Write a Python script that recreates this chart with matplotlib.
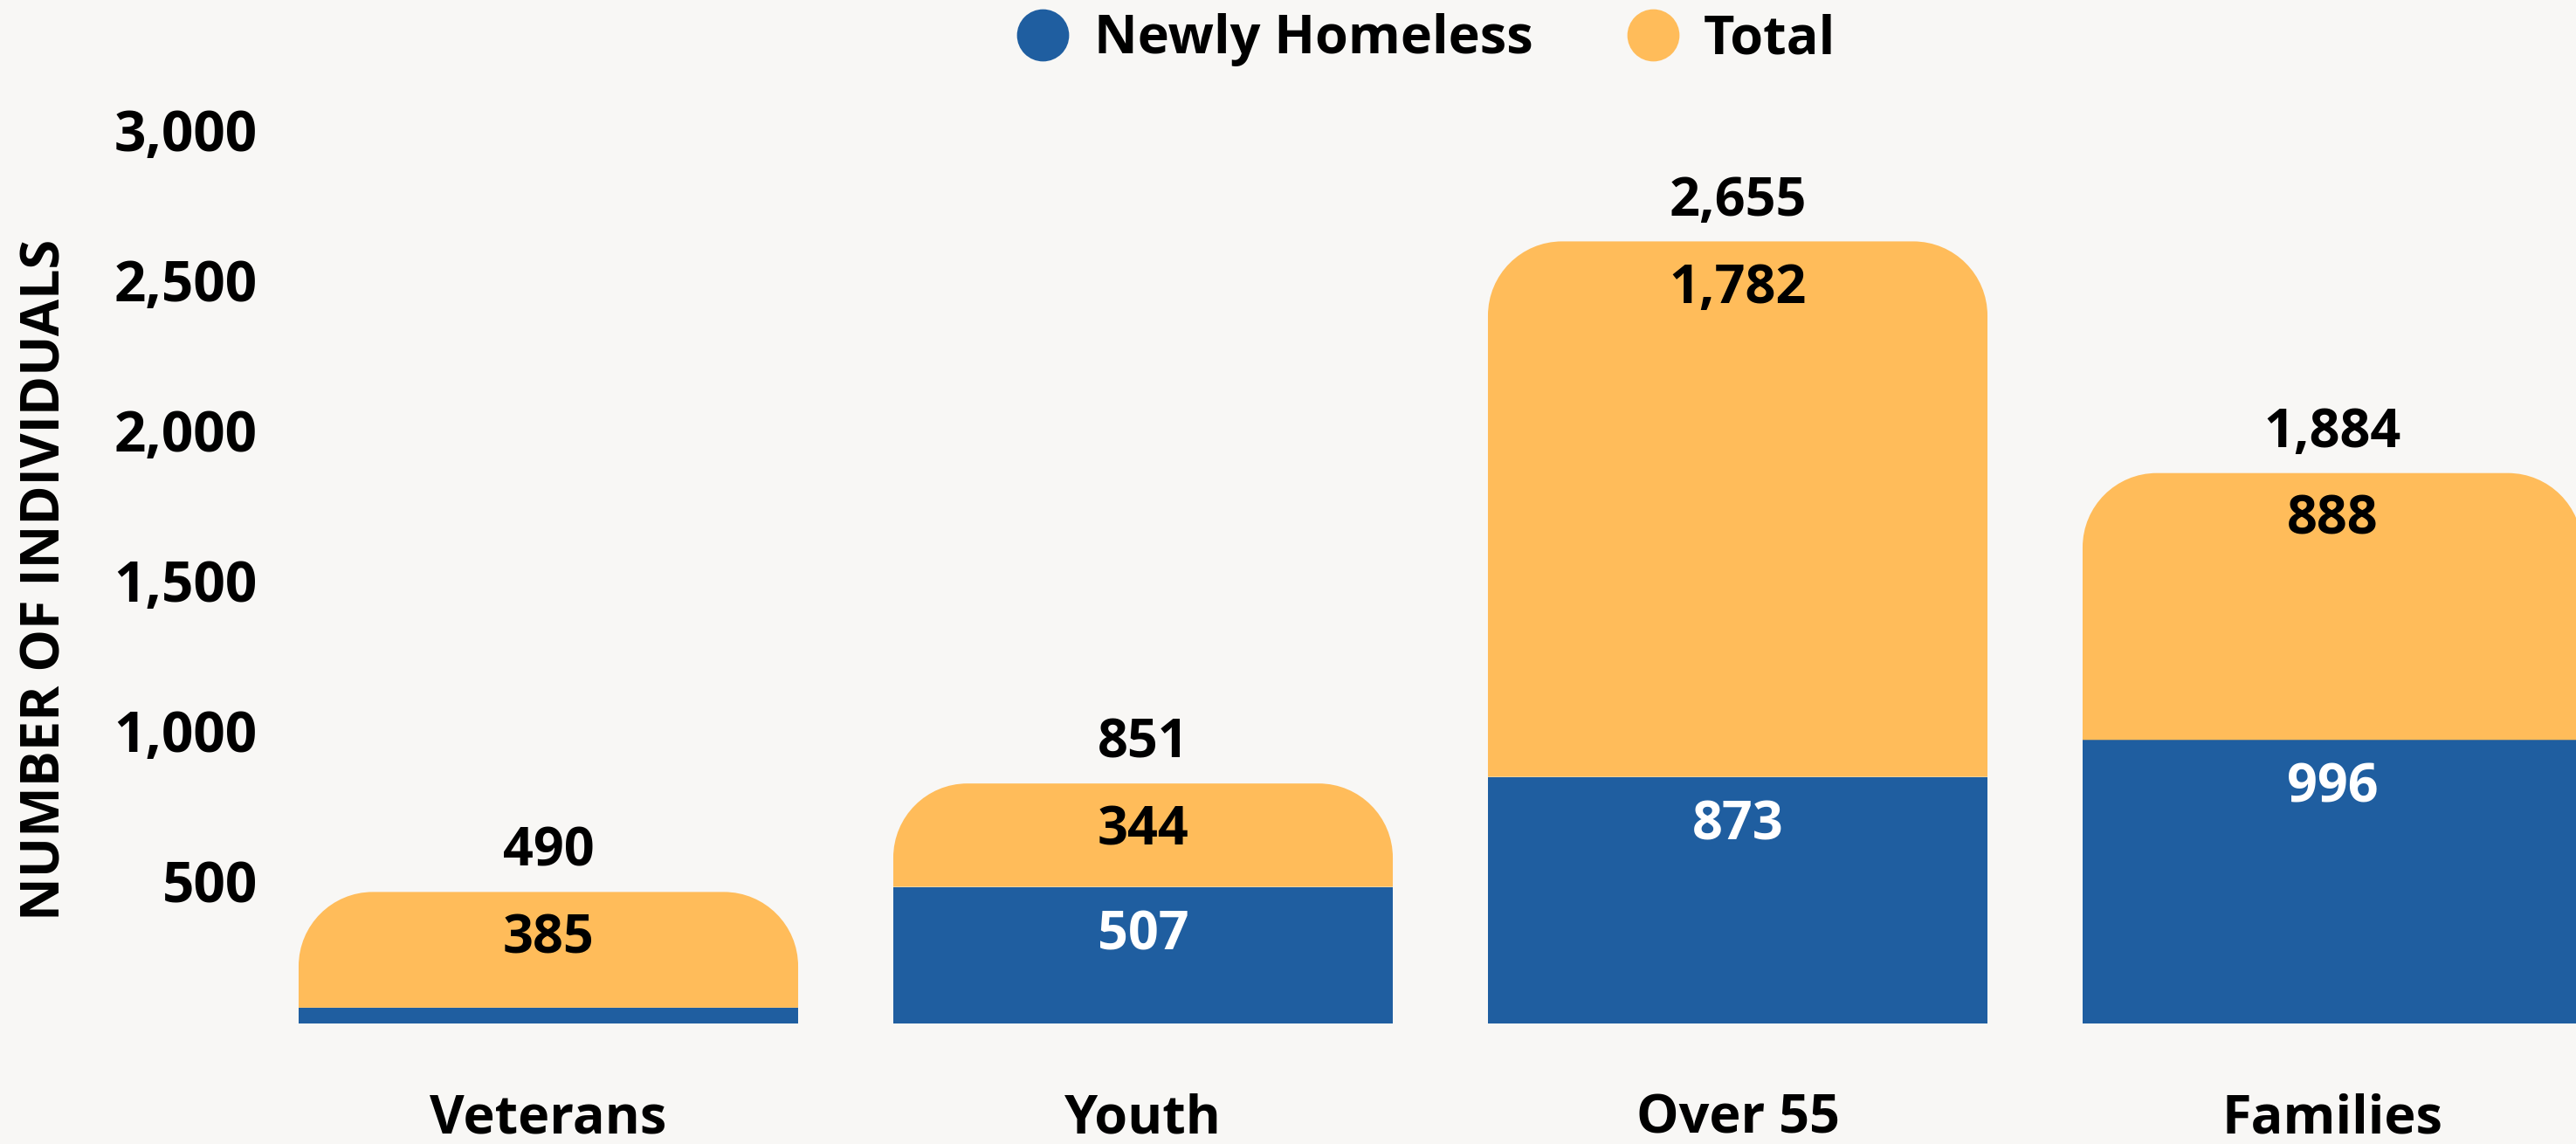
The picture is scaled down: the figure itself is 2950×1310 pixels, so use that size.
import numpy as np
import matplotlib
matplotlib.use('Agg')
from matplotlib import pyplot as plt
from matplotlib.path import Path
from matplotlib.patches import PathPatch
from matplotlib.lines import Line2D
from matplotlib.transforms import ScaledTranslation

categories = ['Veterans', 'Youth', 'Over 55', 'Families']
newly_homeless = [105, 507, 873, 996]
other = [385, 344, 1782, 888]
totals = [490, 851, 2655, 1884]
yticks = [500, 1000, 1500, 2000, 2500, 3000]

blue = '#1f5ea0'
orange = '#ffbc5a'
bg = '#f8f7f5'

plt.rcParams['font.family'] = ['Open Sans', 'DejaVu Sans']
plt.rcParams['font.weight'] = 'bold'

W, H = 2950, 1310
fig = plt.figure(figsize=(W / 100, H / 100), dpi=100, facecolor=bg)

# axes geometry in pixels
left_px, right_px = 310, 2950
bottom_px, top_px = 1172, 60
ax = fig.add_axes([left_px / W, (H - bottom_px) / H,
                   (right_px - left_px) / W, (bottom_px - top_px) / H])
ax.set_facecolor('none')

zero_px, scale = 1190, 0.3441
xmin, xmax = (310 - 628) / 681, (2950 - 628) / 681
ymin, ymax = (zero_px - bottom_px) / scale, (zero_px - top_px) / scale
ax.set_xlim(xmin, xmax)
ax.set_ylim(ymin, ymax)

px_x = (right_px - left_px) / (xmax - xmin)
px_y = (bottom_px - top_px) / (ymax - ymin)
radius = 85
rx, ry = radius / px_x, radius / px_y
width = 0.84


def rounded_top(x, y0, h, w, color):
    x0, x1 = x - w / 2, x + w / 2
    y1 = y0 + h
    k = 0.5523
    verts = [(x0, y0), (x1, y0), (x1, y1 - ry),
             (x1, y1 - ry + k * ry), (x1 - rx + k * rx, y1), (x1 - rx, y1),
             (x0 + rx, y1),
             (x0 + rx - k * rx, y1), (x0, y1 - ry + k * ry), (x0, y1 - ry),
             (x0, y0)]
    codes = [Path.MOVETO, Path.LINETO, Path.LINETO,
             Path.CURVE4, Path.CURVE4, Path.CURVE4,
             Path.LINETO,
             Path.CURVE4, Path.CURVE4, Path.CURVE4,
             Path.CLOSEPOLY]
    ax.add_patch(PathPatch(Path(verts, codes), facecolor=color,
                           edgecolor='none', zorder=2))


x = np.arange(len(categories))
ax.bar(x, newly_homeless, width=width, color=blue, zorder=2)
for i in range(len(categories)):
    rounded_top(x[i], newly_homeless[i], other[i], width, orange)

fs = 44
for i in range(len(categories)):
    ax.annotate(format(totals[i], ','), (x[i], totals[i]),
                xytext=(0, 38), textcoords='offset points',
                ha='center', va='center_baseline', fontsize=fs,
                fontweight='bold')
    ax.annotate(format(other[i], ','), (x[i], totals[i]),
                xytext=(0, -34), textcoords='offset points',
                ha='center', va='center_baseline', fontsize=fs,
                fontweight='bold', color='black')
    if newly_homeless[i] > 200:
        ax.annotate(format(newly_homeless[i], ','), (x[i], newly_homeless[i]),
                    xytext=(0, -35), textcoords='offset points',
                    ha='center', va='center_baseline', fontsize=fs,
                    fontweight='bold', color='white')

ax.set_yticks(yticks)
ax.set_yticklabels([format(v, ',') for v in yticks], fontsize=46,
                   fontweight='bold')
ax.set_xticks(x)
ax.set_xticklabels(categories, fontsize=fs, fontweight='bold')
ax.tick_params(axis='y', length=0, pad=11)
ax.tick_params(axis='x', length=0, pad=57)
for s in ax.spines.values():
    s.set_visible(False)

# nudge the y tick labels up a little (after tick_params, which resets them)
shift = ScaledTranslation(0, 9 / 100, fig.dpi_scale_trans)
for t in ax.yaxis.get_major_ticks():
    t.label1.set_transform(t.label1.get_transform() + shift)

fig.text(53 / W, 1 - 664 / H, 'NUMBER OF INDIVIDUALS', rotation=90,
         ha='center', va='center', fontsize=fs, fontweight='bold')

handles = [Line2D([], [], marker='o', linestyle='none', markersize=43,
                  markerfacecolor=blue, markeredgecolor='none'),
           Line2D([], [], marker='o', linestyle='none', markersize=43,
                  markerfacecolor=orange, markeredgecolor='none')]
fig.legend(handles, ['Newly Homeless', 'Total'], loc='center',
           bbox_to_anchor=(1633 / W, 1 - 46 / H), ncol=2, frameon=False,
           fontsize=fs, handletextpad=0.45, columnspacing=1.75,
           handlelength=1.0)

plt.savefig('out.png', facecolor=bg)
print('Complete')
